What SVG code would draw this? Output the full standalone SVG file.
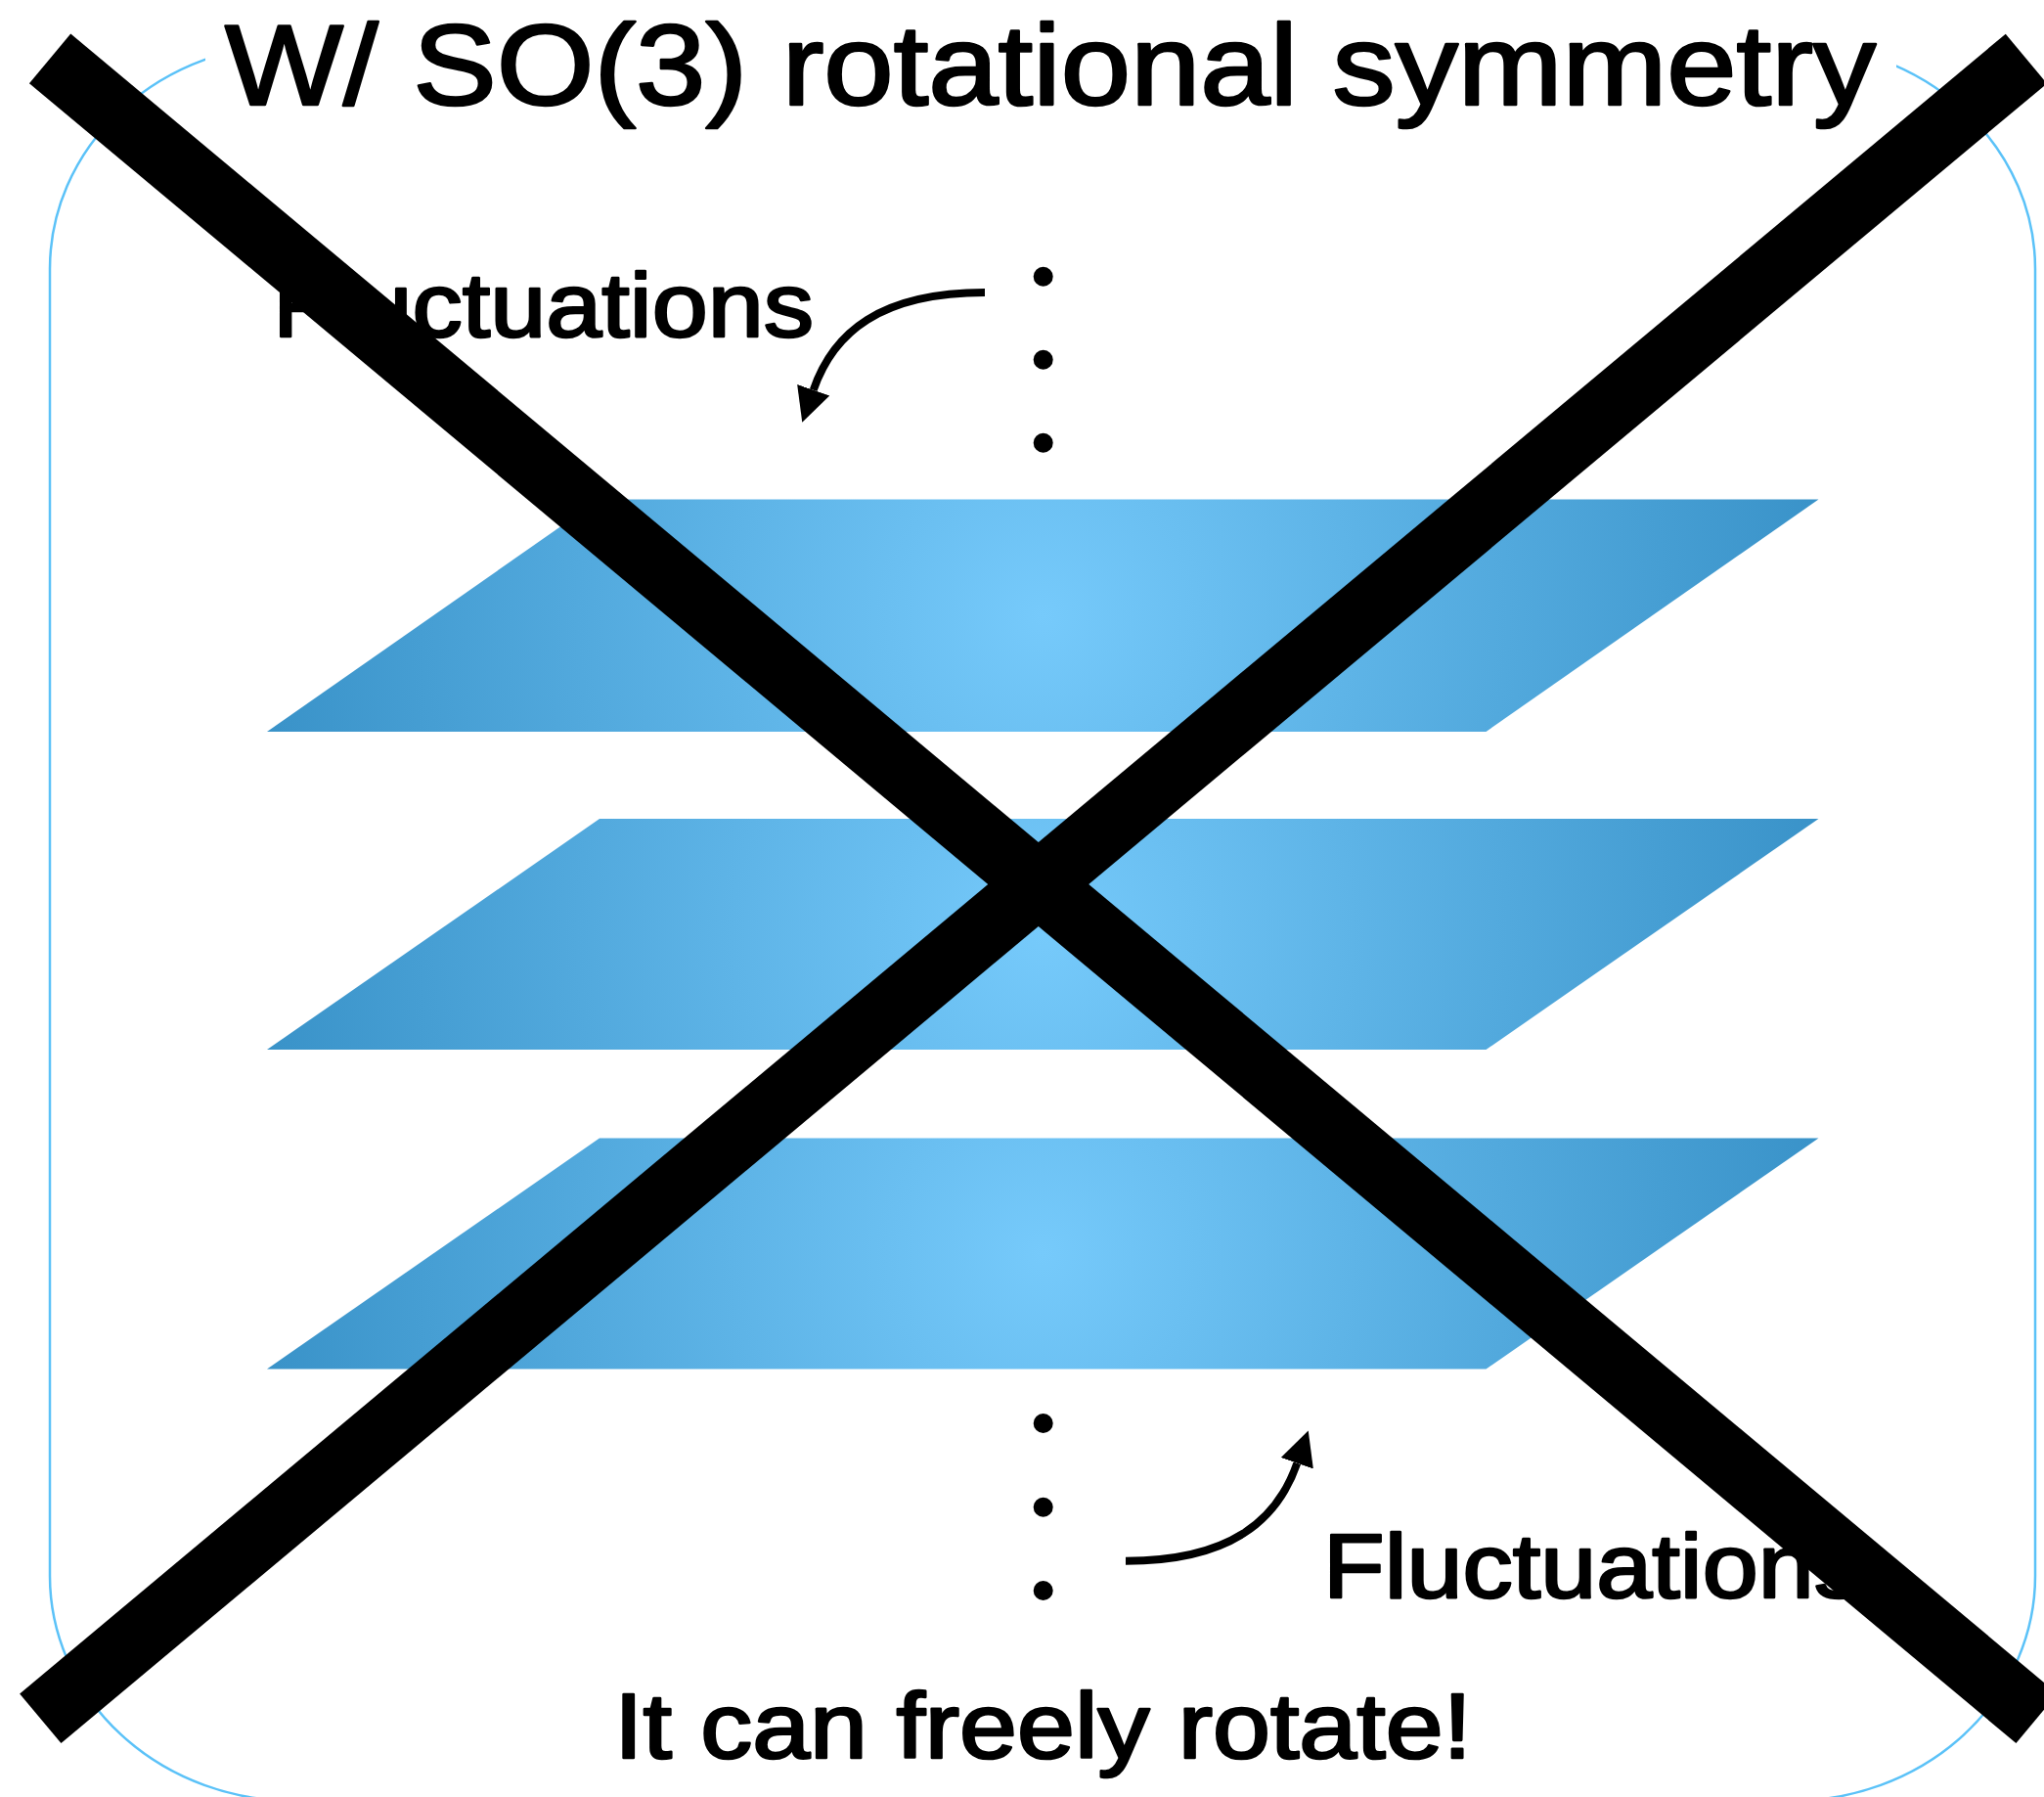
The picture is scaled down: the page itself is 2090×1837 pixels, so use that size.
<svg xmlns="http://www.w3.org/2000/svg" width="2090" height="1837" viewBox="0 0 2090 1837">
  <defs>
    <style>
      .txt { font-family: "Liberation Sans", Arial, sans-serif; font-weight: normal; fill: #000; stroke: #000; stroke-width: 2.6; stroke-linejoin: round; }
      .frame { fill: none; stroke: #5BC2F8; stroke-width: 2.5; }
      .plane { fill: url(#planeGrad); }
      .dot { fill: #000; }
      .conn { fill: none; stroke: #000; stroke-width: 8; marker-end: url(#arrow); }
      .cross { stroke: #000; stroke-width: 66; stroke-linecap: butt; }
    </style>
    <radialGradient id="planeGrad" cx="0.5" cy="0.5" r="0.5" gradientTransform="translate(0.5 0.5) scale(1 6.68) translate(-0.5 -0.5)">
      <stop offset="0" stop-color="#76CAFB"/>
      <stop offset="1" stop-color="#3A93C9"/>
    </radialGradient>
    <marker id="arrow" markerUnits="userSpaceOnUse" markerWidth="40" markerHeight="40" viewBox="0 -20 40 40" refX="0" refY="0" orient="auto">
      <path d="M0,-17.5 L35,0 L0,17.5 Z" fill="#000"/>
    </marker>
  </defs>

  <rect width="2090" height="1837" fill="#fff"/>

  <g id="frame">
    <rect class="frame" x="51" y="45" width="2030" height="1796" rx="250" ry="230"/>
  </g>

  <g id="title">
    <rect x="210" y="15" width="1729" height="70" fill="#fff"/>
    <text class="txt" x="230" y="107" font-size="116" textLength="1688" lengthAdjust="spacingAndGlyphs">W/ SO(3) rotational symmetry</text>
  </g>

  <g id="plane-1">
    <polygon class="plane" points="613,510.5 1859.5,510.5 1519.5,748 273,748"/>
  </g>
  <g id="plane-2">
    <polygon class="plane" points="613,837 1859.5,837 1519.5,1073 273,1073"/>
  </g>
  <g id="plane-3">
    <polygon class="plane" points="613,1163.5 1859.5,1163.5 1519.5,1399.5 273,1399.5"/>
  </g>

  <g id="dots-top">
    <circle class="dot" cx="1066.7" cy="282.7" r="10"/>
    <circle class="dot" cx="1066.7" cy="367.7" r="10"/>
    <circle class="dot" cx="1066.7" cy="452.7" r="10"/>
  </g>
  <g id="dots-bottom">
    <circle class="dot" cx="1066.7" cy="1455" r="10"/>
    <circle class="dot" cx="1066.7" cy="1540.7" r="10"/>
    <circle class="dot" cx="1066.7" cy="1626" r="10"/>
  </g>

  <g id="label-fluctuations-top">
    <text class="txt" x="279" y="344" font-size="93" textLength="553" lengthAdjust="spacingAndGlyphs">Fluctuations</text>
  </g>
  <g id="label-fluctuations-bottom">
    <text class="txt" x="1353" y="1633" font-size="93" textLength="553" lengthAdjust="spacingAndGlyphs">Fluctuations</text>
  </g>

  <g id="connectors">
    <path class="conn" d="M1007,299 C900,299 852,340 831.7,398.7"/>
    <path class="conn" d="M1151,1595.7 C1258,1595.7 1306,1554.4 1326.3,1495.7"/>
  </g>

  <g id="caption">
    <text class="txt" x="628" y="1797" font-size="94" textLength="877" lengthAdjust="spacingAndGlyphs" stroke-width="4">It can freely rotate!</text>
  </g>

  <g id="cross">
    <line class="cross" x1="51.1" y1="59.8" x2="2082.6" y2="1756.7"/>
    <line class="cross" x1="41.3" y1="1756.7" x2="2071.9" y2="60"/>
  </g>
</svg>
